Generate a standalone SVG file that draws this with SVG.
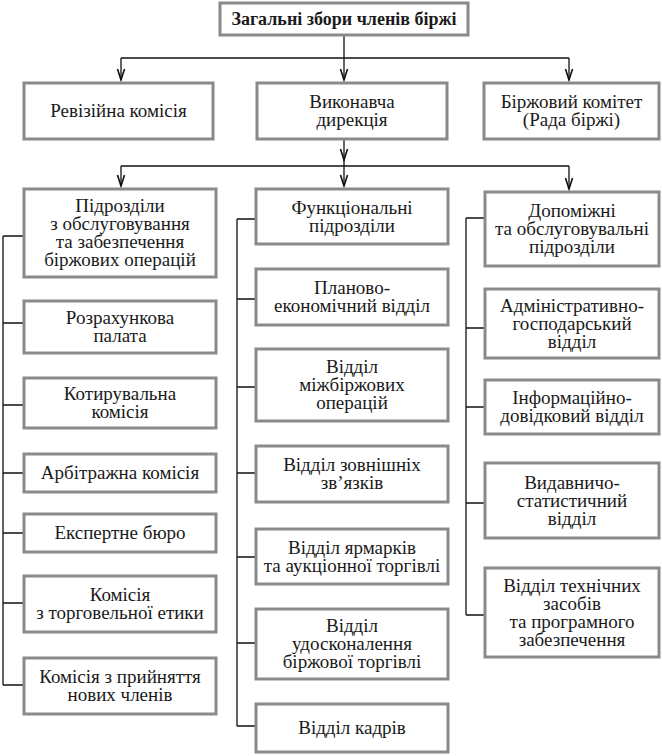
<svg xmlns="http://www.w3.org/2000/svg" width="662" height="756" viewBox="0 0 662 756">
<defs>
<style>
.b{fill:#fff;stroke:#8a8a8a;stroke-width:3}
.t{font-size:19px;fill:#1a1a1a;text-anchor:middle}
.tb{font-weight:bold;font-size:18px}
.c{fill:none;stroke:#111;stroke-width:1.3}
</style>
<marker id="ah" markerUnits="userSpaceOnUse" markerWidth="14" markerHeight="10" viewBox="-12 -5 14 10" refX="0" refY="0" orient="auto">
<path d="M-11,-3.5 L0,0 L-11,3.5" fill="none" stroke="#111" stroke-width="1.6"/>
</marker>
</defs>
<rect width="662" height="756" fill="#fff"/>
<g id="connectors">
<path class="c" d="M344,36 V58 M121,58 H569"/>
<path class="c" d="M121,58 V80" marker-end="url(#ah)"/>
<path class="c" d="M344,58 V80" marker-end="url(#ah)"/>
<path class="c" d="M569,58 V80" marker-end="url(#ah)"/>
<path class="c" d="M344,140 V160" marker-end="url(#ah)"/>
<path class="c" d="M344,160 V166 M121,166 H569"/>
<path class="c" d="M121,166 V186" marker-end="url(#ah)"/>
<path class="c" d="M344,166 V186" marker-end="url(#ah)"/>
<path class="c" d="M569,166 V189" marker-end="url(#ah)"/>
<path class="c" d="M3,236 V685 M3,236 H23 M3,323 H23 M3,405 H23 M3,473 H23 M3,533 H23 M3,603 H23 M3,685 H23"/>
<path class="c" d="M237,219 V726 M237,219 H255 M237,299 H255 M237,387 H255 M237,473 H255 M237,557 H255 M237,643 H255 M237,726 H255"/>
<path class="c" d="M466,218 V615 M466,218 H484 M466,328 H484 M466,407 H484 M466,503 H484 M466,615 H484"/>
</g>
<g font-family="Liberation Serif, serif">
<g id="n-top"><rect class="b" x="220" y="3" width="248" height="32"/><text class="t tb" x="344" y="25">Загальні збори членів біржі</text></g>
<g id="n-rev"><rect class="b" x="24" y="83" width="189" height="56"/><text class="t" x="118.5" y="117">Ревізійна комісія</text></g>
<g id="n-vyk"><rect class="b" x="257" y="83" width="190" height="56"/><text class="t" x="352" y="108">Виконавча</text><text class="t" x="352" y="126">дирекція</text></g>
<g id="n-birzh"><rect class="b" x="484" y="83" width="175" height="56"/><text class="t" x="571.5" y="108">Біржовий комітет</text><text class="t" x="571.5" y="126">(Рада біржі)</text></g>

<g id="n-l1"><rect class="b" x="24" y="189" width="192" height="88"/><text class="t" x="120" y="212">Підрозділи</text><text class="t" x="120" y="230">з обслуговування</text><text class="t" x="120" y="248">та забезпечення</text><text class="t" x="120" y="266">біржових операцій</text></g>
<g id="n-l2"><rect class="b" x="24" y="301" width="192" height="52"/><text class="t" x="120" y="324">Розрахункова</text><text class="t" x="120" y="342">палата</text></g>
<g id="n-l3"><rect class="b" x="24" y="378" width="192" height="50"/><text class="t" x="120" y="400">Котирувальна</text><text class="t" x="120" y="418">комісія</text></g>
<g id="n-l4"><rect class="b" x="24" y="454" width="192" height="38"/><text class="t" x="120" y="479">Арбітражна комісія</text></g>
<g id="n-l5"><rect class="b" x="24" y="514" width="192" height="38"/><text class="t" x="120" y="539">Експертне бюро</text></g>
<g id="n-l6"><rect class="b" x="24" y="576" width="192" height="56"/><text class="t" x="120" y="601">Комісія</text><text class="t" x="120" y="619">з торговельної етики</text></g>
<g id="n-l7"><rect class="b" x="24" y="658" width="192" height="56"/><text class="t" x="120" y="683">Комісія з прийняття</text><text class="t" x="120" y="701">нових членів</text></g>

<g id="n-m1"><rect class="b" x="256" y="189" width="192" height="55"/><text class="t" x="352" y="213.5">Функціональні</text><text class="t" x="352" y="231.5">підрозділи</text></g>
<g id="n-m2"><rect class="b" x="256" y="269" width="192" height="56"/><text class="t" x="352" y="294">Планово-</text><text class="t" x="352" y="312">економічний відділ</text></g>
<g id="n-m3"><rect class="b" x="256" y="349" width="192" height="72"/><text class="t" x="352" y="373">Відділ</text><text class="t" x="352" y="391">міжбіржових</text><text class="t" x="352" y="409">операцій</text></g>
<g id="n-m4"><rect class="b" x="256" y="446" width="192" height="56"/><text class="t" x="352" y="471">Відділ зовнішніх</text><text class="t" x="352" y="489">зв’язків</text></g>
<g id="n-m5"><rect class="b" x="256" y="529" width="192" height="55"/><text class="t" x="352" y="553.5">Відділ ярмарків</text><text class="t" x="352" y="571.5">та аукціонної торгівлі</text></g>
<g id="n-m6"><rect class="b" x="256" y="609" width="192" height="70"/><text class="t" x="352" y="632">Відділ</text><text class="t" x="352" y="650">удосконалення</text><text class="t" x="352" y="668">біржової торгівлі</text></g>
<g id="n-m7"><rect class="b" x="256" y="704" width="192" height="48"/><text class="t" x="352" y="734">Відділ кадрів</text></g>

<g id="n-r1"><rect class="b" x="485" y="192" width="174" height="74"/><text class="t" x="572" y="217">Допоміжні</text><text class="t" x="572" y="235">та обслуговувальні</text><text class="t" x="572" y="253">підрозділи</text></g>
<g id="n-r2"><rect class="b" x="485" y="289" width="174" height="69"/><text class="t" x="572" y="311.5">Адміністративно-</text><text class="t" x="572" y="329.5">господарський</text><text class="t" x="572" y="347.5">відділ</text></g>
<g id="n-r3"><rect class="b" x="485" y="380" width="174" height="54"/><text class="t" x="572" y="404">Інформаційно-</text><text class="t" x="572" y="422">довідковий відділ</text></g>
<g id="n-r4"><rect class="b" x="485" y="463" width="174" height="75"/><text class="t" x="572" y="488.5">Видавничо-</text><text class="t" x="572" y="506.5">статистичний</text><text class="t" x="572" y="524.5">відділ</text></g>
<g id="n-r5"><rect class="b" x="485" y="568" width="174" height="89"/><text class="t" x="572" y="591.5">Відділ технічних</text><text class="t" x="572" y="609.5">засобів</text><text class="t" x="572" y="627.5">та програмного</text><text class="t" x="572" y="645.5">забезпечення</text></g>
</g>
</svg>
